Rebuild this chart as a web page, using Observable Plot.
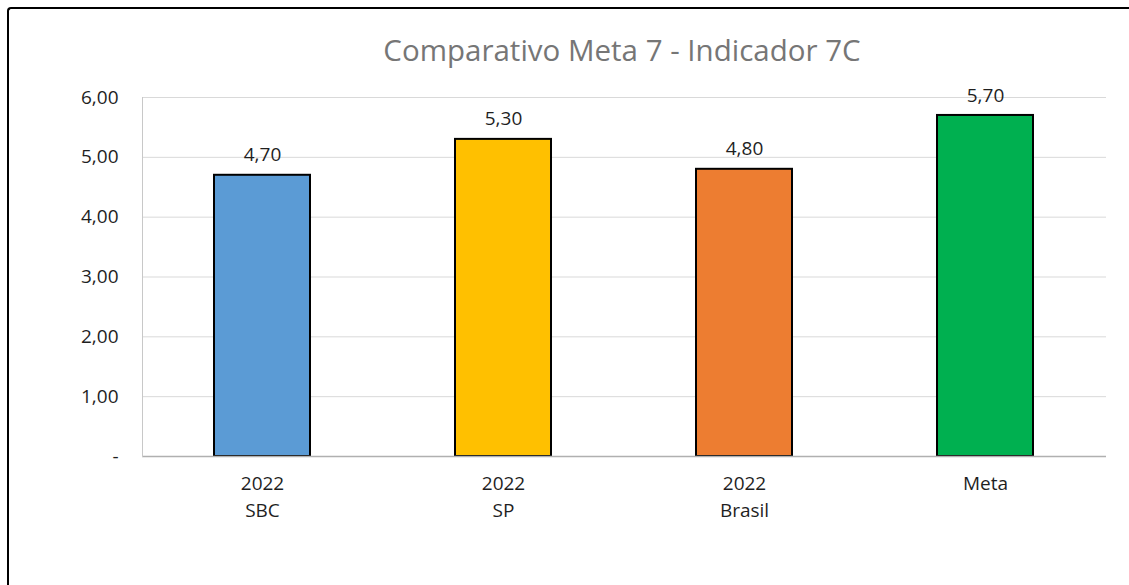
<!DOCTYPE html>
<html>
<head>
<meta charset="utf-8">
<script src="https://cdn.jsdelivr.net/npm/d3@7"></script>
<script src="https://cdn.jsdelivr.net/npm/@observablehq/plot@0.6"></script>
<style>
  html, body { margin: 0; padding: 0; background: #fff; }
  #wrap { position: relative; width: 1129px; height: 585px; overflow: hidden; }
  #frame { position: absolute; left: 7px; top: 7px; width: 1140px; height: 600px;
           border-left: 2px solid #000; border-top: 2px solid #000; border-top-left-radius: 4px; box-sizing: border-box; }
  #title { position: absolute; left: 0; width: 1244px; top: 29px; text-align: center;
           font-family: "Open Sans", sans-serif; font-size: 29.5px; color: #767676; white-space: nowrap; }
  #chart { position: absolute; left: 0; top: 0; }
</style>
</head>
<body>
<div id="wrap">
  <div id="frame"></div>
  <div id="title">Comparativo Meta 7 - Indicador 7C</div>
  <div id="chart"></div>
</div>
<script>
const categories = ["2022\nSBC", "2022\nSP", "2022\nBrasil", "Meta"];
const values = [4.70, 5.30, 4.80, 5.70];
const colors = ["#5B9BD5", "#FFC000", "#ED7D31", "#00B050"];
const yTicks = [0, 1, 2, 3, 4, 5, 6];

const data = categories.map((c, i) => ({ category: c, value: values[i], color: colors[i] }));
const fmt = v => v === 0 ? "-" : v.toFixed(2).replace(".", ",");

const chart = Plot.plot({
  width: 1129,
  height: 585,
  marginLeft: 142,
  marginRight: 23,
  marginTop: 97,
  marginBottom: 129,
  style: { fontFamily: "Open Sans, sans-serif", fontSize: "19px", color: "#1f1f1f", background: "transparent" },
  x: { domain: categories, paddingInner: 0.6, paddingOuter: 0.3, label: null },
  y: { domain: [0, 6], label: null },
  marks: [
    Plot.gridY(yTicks, { stroke: "#d9d9d9", strokeOpacity: 1 }),
    Plot.axisY(yTicks, { tickSize: 0, tickPadding: 24, tickFormat: fmt, fontSize: 19, fill: "#1f1f1f" }),
    Plot.axisX({ tickSize: 0, tickPadding: 15, fontSize: 19, fill: "#1f1f1f", lineHeight: 1.4 }),
    Plot.barY(data, { x: "category", y: "value", fill: "color", stroke: "#000", strokeWidth: 2 }),
    Plot.ruleY([0], { stroke: "#b0b0b0", strokeWidth: 1.5 }),
    Plot.frame({ anchor: "left", stroke: "#c8c8c8" }),
    Plot.text(data, { x: "category", y: "value", text: d => fmt(d.value), dy: -20, fontSize: 19, fill: "#1f1f1f" })
  ]
});
document.getElementById("chart").appendChild(chart);
</script>
</body>
</html>
